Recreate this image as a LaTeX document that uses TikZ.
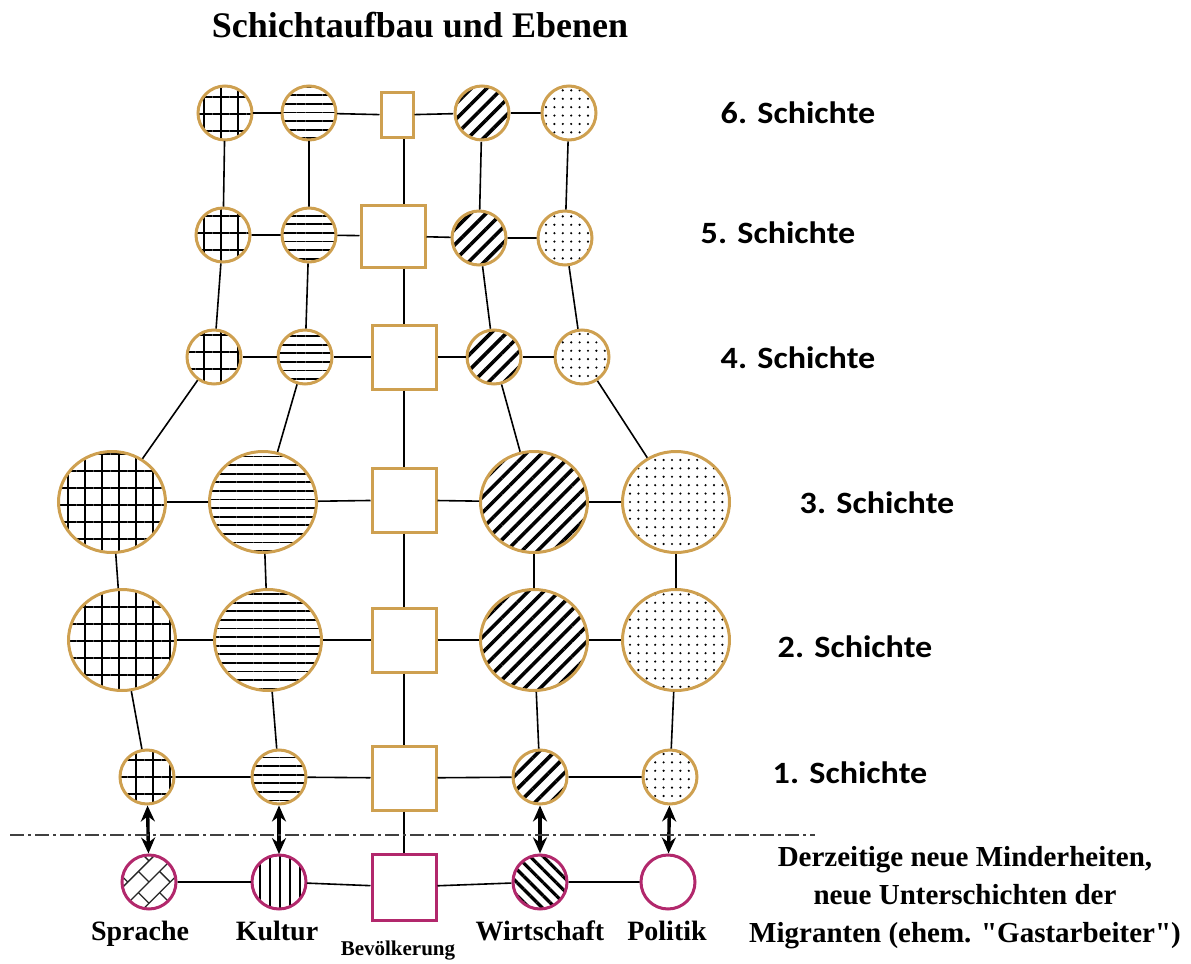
\documentclass[tikz,border=0pt]{standalone}
\usepackage{fontspec}
\setmainfont{Liberation Serif}
\newfontfamily\layerfont[FakeStretch=1.1]{Carlito}
\usetikzlibrary{patterns.meta,arrows.meta,shapes.geometric}
\definecolor{ochre}{RGB}{206,160,80}
\definecolor{plum}{RGB}{178,40,108}

\begin{document}
\begin{tikzpicture}[x=0.5pt, y=-0.5pt,
    every node/.style={inner sep=0pt},
    bubble/.style={circle, draw=ochre, line width=1.5pt, minimum size=27pt},
    bigbubble/.style={ellipse, draw=ochre, line width=1.5pt, minimum width=53.5pt, minimum height=50.5pt},
    box/.style={rectangle, draw=ochre, line width=1.5pt, minimum size=32pt},
    newbubble/.style={circle, draw=plum, line width=1.5pt, minimum size=27pt},
    gridfill/.style={pattern={Hatch[distance=8.5pt, line width=0.9pt]}},
    stripefill/.style={pattern={Lines[distance=4.3pt, line width=0.9pt]}},
    diagfill/.style={pattern={Lines[angle=45, distance=5.5pt, line width=1.8pt]}},
    dotfill/.style={pattern={Dots[distance=4.2pt, radius=0.6pt]}},
    barfill/.style={pattern={Lines[angle=90, distance=5pt, line width=0.9pt]}},
    backfill/.style={pattern={Lines[angle=-45, distance=4.6pt, line width=1.6pt]}},
    brickfill/.style={path picture={
        \begin{scope}[draw=black!85, line width=0.7pt, shift={(path picture bounding box.center)}, x={(0.354pt,0.354pt)}, y={(-0.354pt,0.354pt)}]
          \foreach \r in {-3,...,3} {
            \draw (-40,\r*15) -- (40,\r*15);
            \pgfmathtruncatemacro\sh{mod(\r+10,2)*15}
            \foreach \c in {-3,...,3}
              \draw (\c*30+\sh,\r*15) -- ++(0,15);
          }
        \end{scope}}},
    link/.style={line width=0.8pt},
    twoway/.style={line width=1.7pt, {Stealth[length=8pt,width=7pt]}-{Stealth[length=8pt,width=7pt]}},
    layer/.style={font=\layerfont\bfseries\fontsize{15.5}{18}\selectfont, anchor=base},
    axis/.style={font=\bfseries\fontsize{14}{16}\selectfont, anchor=base}]

\useasboundingbox (0,0) rectangle (1191,964);

\node[font=\bfseries\fontsize{18}{20}\selectfont, anchor=base] (title) at (420,37) {Schichtaufbau und Ebenen};

% Schichte 6
\node[bubble, gridfill] (g6) at (225,113) {};
\node[bubble, stripefill] (h6) at (309,113) {};
\node[box, minimum width=16pt, minimum height=22.5pt] (s6) at (397,115) {};
\node[bubble, diagfill] (d6) at (482,113) {};
\node[bubble, dotfill] (p6) at (569,113) {};
% Schichte 5
\node[bubble, gridfill] (g5) at (223,235) {};
\node[bubble, stripefill] (h5) at (309,235) {};
\node[box, minimum width=32pt, minimum height=31pt] (s5) at (393,236) {};
\node[bubble, diagfill] (d5) at (479,238) {};
\node[bubble, dotfill] (p5) at (565,238) {};
% Schichte 4
\node[bubble, gridfill] (g4) at (214,357) {};
\node[bubble, stripefill] (h4) at (305,357) {};
\node[box] (s4) at (404,357) {};
\node[bubble, diagfill] (d4) at (494,357) {};
\node[bubble, dotfill] (p4) at (582,357) {};
% Schichte 3
\node[bigbubble, gridfill] (g3) at (112,502) {};
\node[bigbubble, stripefill] (h3) at (263,502) {};
\node[box] (s3) at (404,500) {};
\node[bigbubble, diagfill] (d3) at (534,502) {};
\node[bigbubble, dotfill] (p3) at (676,502) {};
% Schichte 2
\node[bigbubble, gridfill] (g2) at (122,640) {};
\node[bigbubble, stripefill] (h2) at (268,640) {};
\node[box] (s2) at (404,640) {};
\node[bigbubble, diagfill] (d2) at (534,640) {};
\node[bigbubble, dotfill] (p2) at (676,640) {};
% Schichte 1
\node[bubble, gridfill] (g1) at (147,777) {};
\node[bubble, stripefill] (h1) at (279,777) {};
\node[box] (s1) at (404,778) {};
\node[bubble, diagfill] (d1) at (540,777) {};
\node[bubble, dotfill] (p1) at (670,777) {};
% Minderheiten
\node[newbubble, brickfill] (sp) at (149,882) {};
\node[newbubble, barfill] (ku) at (279,882) {};
\node[box, draw=plum, minimum width=32pt, minimum height=33pt] (bv) at (404,887) {};
\node[newbubble, backfill] (wi) at (540,882) {};
\node[newbubble] (po) at (668,882) {};

% Verbindungen
\foreach \r in {6,5,4,3,2,1} {
  \draw[link] (g\r) -- (h\r) -- (s\r) -- (d\r) -- (p\r);
}
\foreach \c in {g,h,d,p} {
  \draw[link] (\c6) -- (\c5) -- (\c4) -- (\c3) -- (\c2) -- (\c1);
}
\draw[link] (s6.south -| s4) -- (s5.north -| s4);
\draw[link] (s5.south -| s4) -- (s4) -- (s3) -- (s2) -- (s1) -- (bv);
\draw[link] (sp) -- (ku) -- (bv) -- (wi) -- (po);
\draw[twoway] (g1) -- (sp);
\draw[twoway] (h1) -- (ku);
\draw[twoway] (d1) -- (wi);
\draw[twoway] (p1) -- (po);

\coordinate (cutL) at (10,835);
\coordinate (cutR) at (815,835);
\draw[line width=1pt, black!75, dash pattern=on 7pt off 2pt on 1.5pt off 2pt] (cutL) -- (cutR);

% Schichten
\node[layer] (l6) at (798,123) {6. Schichte};
\node[layer] (l5) at (778,243) {5. Schichte};
\node[layer] (l4) at (798,368) {4. Schichte};
\node[layer] (l3) at (877,513) {3. Schichte};
\node[layer] (l2) at (855,657) {2. Schichte};
\node[layer] (l1) at (850,783) {1. Schichte};

\node[axis] (tsp) at (140,940) {Sprache};
\node[axis] (tku) at (277,940) {Kultur};
\node[font=\bfseries\fontsize{10.5}{12}\selectfont, anchor=base] (tbv) at (398,955) {Bevölkerung};
\node[axis] (twi) at (540,940) {Wirtschaft};
\node[axis] (tpo) at (667,940) {Politik};
\node[font=\bfseries\fontsize{14.5}{19}\selectfont, align=center] (note) at (965,898)
  {Derzeitige neue Minderheiten,\\neue Unterschichten der\\Migranten (ehem. \textquotedbl Gastarbeiter\textquotedbl)};
\end{tikzpicture}
\end{document}
